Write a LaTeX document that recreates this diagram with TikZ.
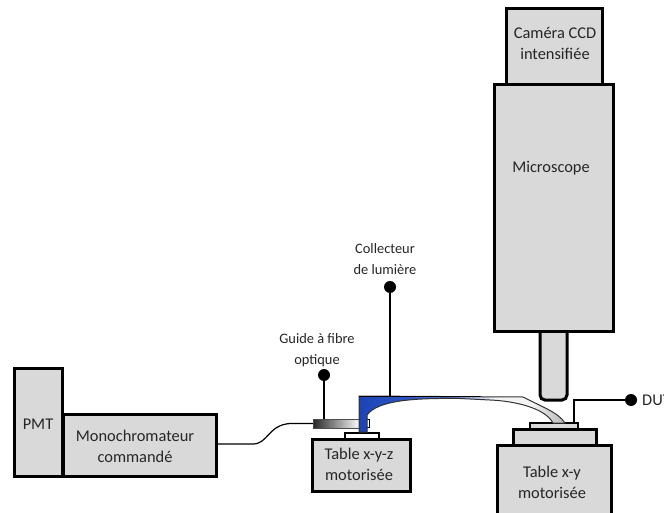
\documentclass[tikz,border=0pt]{standalone}
\usepackage{fontspec}
\setmainfont{Carlito}
\definecolor{c1}{HTML}{1B43B6}
\definecolor{c2}{HTML}{2E58C4}
\definecolor{c3}{HTML}{5F80D2}
\definecolor{c4}{HTML}{F4F4F4}
\definecolor{c5}{HTML}{B5B5B5}
\definecolor{boxgray}{HTML}{D9D9D9}
\definecolor{txt}{HTML}{262626}
\pgfdeclarehorizontalshading{collshade}{100bp}{
  color(0bp)=(c1); color(25bp)=(c1); color(38bp)=(c2); color(47bp)=(c3);
  color(58bp)=(c4); color(67bp)=(c4); color(75bp)=(c5); color(100bp)=(c5)}
\tikzset{
  box/.style={draw=black,fill=boxgray,line width=3pt,anchor=north west,inner sep=0pt,outer sep=0pt},
  thinbox/.style={draw=black,line width=1.8pt,anchor=north west,inner sep=0pt,outer sep=0pt},
  lbl/.style={font=\fontsize{16.4}{21}\selectfont,text=txt,align=center,inner sep=0pt},
  smalllbl/.style={lbl,font=\fontsize{14.4}{21}\selectfont},
  pin/.style={circle,fill=black,minimum size=12pt,inner sep=0pt,outer sep=0pt},
  wire/.style={draw=black,line width=1.2pt}
}
\newcommand{\bx}[7][box]{\node[#1,minimum width=#6pt,minimum height=#7pt] (#2) at (#3,#4) {#5};}
\begin{document}
\begin{tikzpicture}[x=1pt,y=-1pt]
\useasboundingbox (0,0) rectangle (664,513);
\fill[white] (0,0) rectangle (664,513);
% left boxes
\bx{pmt}{14}{368}{}{48}{108}
\bx{mono}{63}{414}{}{153}{62}
% microscope
\bx{cam}{506}{9}{}{96}{76}
\draw[line width=3pt,fill=boxgray,rounded corners=5pt] (540,325) -- (540,400) -- (567,400) -- (567,325);
\bx{mic}{494}{85}{}{119}{246}
% tables
\bx{txyz}{312}{439}{}{98}{52}
\bx[thinbox,fill=white]{plate}{345}{433}{}{34}{6}
\bx{txy}{497}{445}{}{114}{75}
\bx{stage}{513}{429}{}{83}{16}
\bx[box,line width=2pt]{dut}{530}{423}{}{48}{6}
% guide
\node[thinbox,left color=black!85,right color=white,minimum width=47pt,minimum height=9pt,line width=.8pt,draw=black!70] (guide) at (313,419) {};
\draw[draw=black,line width=.8pt] (367,419) -- (369,419) -- (369,427) -- (367,427);
% collector
\coordinate (ctop) at (390,396);
\shade[shading=collshade,draw=black!80,line width=1pt]
  (359,396) -- (523,397)
  .. controls (540,406) and (558,412) .. (565,423)
  -- (553,423)
  .. controls (545,408) and (515,401) .. (490,400)
  -- (460,398.5)
  .. controls (415,398) and (378,400) .. (367,415)
  -- (367,432) -- (359,432) -- cycle;
\draw[draw=black,line width=1.8pt] (359,396.5) -- (480,396.5);
% pins
\node[pin] (pguide) at (324,375) {};
\node[pin] (pcoll) at (390,287) {};
\node[pin] (pdut) at (631,400) {};
\draw[wire] (pguide) -- (pguide |- guide.north);
\draw[wire] (pcoll) -- (ctop);
\draw[wire] (pdut) -- (574,400) -- (574,423);
% cable
\draw[wire] (mono.east |- 0,444) -- (253,444) .. controls (268,444) and (268,425) .. (290,423.5) -- (guide.west);
% labels
\node[lbl] (lpmt) at (38,424) {PMT};
\node[lbl] (lmono) at (135,446.5) {Monochromateur\\commandé};
\node[lbl] (lcam) at (555,43.5) {Caméra CCD\\intensifiée};
\node[lbl] (lmic) at (551,168) {Microscope};
\node[lbl] (lxyz) at (359,464) {Table x-y-z\\motorisée};
\node[lbl] (lxy) at (552,482.5) {Table x-y\\motorisée};
\node[smalllbl] (lcoll) at (385,259.5) {Collecteur\\de lumière};
\node[smalllbl] (lguide) at (317,350.5) {Guide à fibre\\optique};
\node[lbl,anchor=west] (ldut) at (642,400) {DUT};
\end{tikzpicture}
\end{document}
